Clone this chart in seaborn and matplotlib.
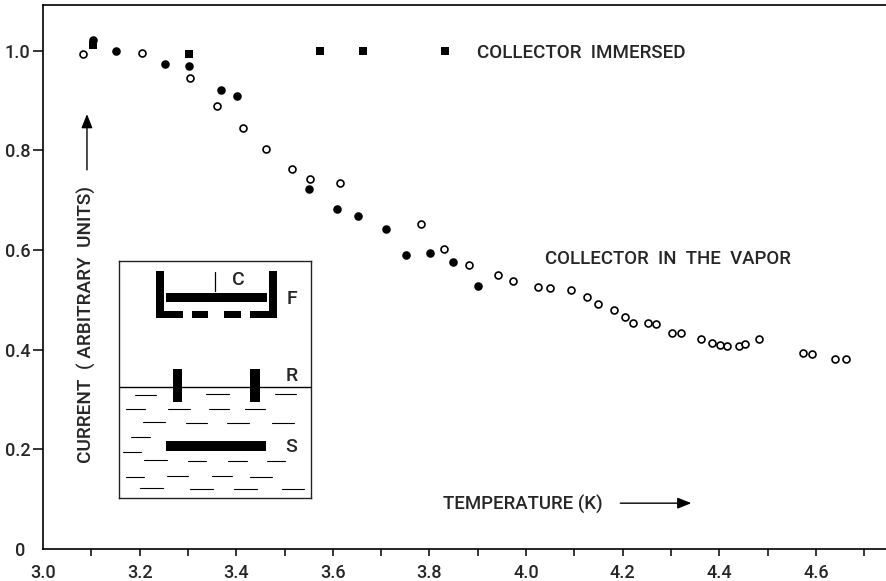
import pandas as pd
import matplotlib.pyplot as plt
import matplotlib.patches as mpatches
from matplotlib.transforms import ScaledTranslation
import seaborn as sns

# -------------------------------
# Data
# -------------------------------
vapor_open_t = [3.083, 3.205, 3.304, 3.361, 3.413, 3.462, 3.516, 3.553, 3.615, 3.782,
                3.830, 3.882, 3.941, 3.972, 4.024, 4.050, 4.092, 4.126, 4.149, 4.181,
                4.204, 4.222, 4.252, 4.268, 4.302, 4.321, 4.362, 4.384, 4.402, 4.416,
                4.440, 4.453, 4.482, 4.574, 4.591, 4.640, 4.663]
vapor_open_i = [0.993, 0.995, 0.946, 0.890, 0.846, 0.802, 0.762, 0.742, 0.734, 0.653,
                0.602, 0.571, 0.550, 0.537, 0.525, 0.523, 0.519, 0.505, 0.492, 0.479,
                0.465, 0.454, 0.454, 0.452, 0.433, 0.433, 0.421, 0.414, 0.410, 0.408,
                0.407, 0.412, 0.422, 0.393, 0.391, 0.382, 0.382]

vapor_filled_t = [3.103, 3.152, 3.253, 3.303, 3.369, 3.402, 3.551, 3.609, 3.652, 3.711,
                  3.751, 3.802, 3.849, 3.901]
vapor_filled_i = [1.022, 1.000, 0.974, 0.970, 0.922, 0.909, 0.723, 0.683, 0.669, 0.643,
                  0.590, 0.594, 0.576, 0.527]

immersed_t = [3.103, 3.302, 3.574, 3.663, 3.832]
immersed_i = [1.012, 0.993, 1.000, 0.999, 0.999]

x_major = [3.0, 3.2, 3.4, 3.6, 3.8, 4.0, 4.2, 4.4, 4.6]
x_minor = [3.1, 3.3, 3.5, 3.7, 3.9, 4.1, 4.3, 4.5, 4.7]
y_ticks = [0, 0.2, 0.4, 0.6, 0.8, 1.0]
y_labels = ['0', '0.2', '0.4', '0.6', '0.8', '1.0']

sns.set_style('ticks')
plt.rcParams['font.family'] = ['Roboto', 'DejaVu Sans']
plt.rcParams['font.size'] = 12
plt.rcParams['font.weight'] = 500

fig = plt.figure(figsize=(8.87, 5.81), dpi=100)
ax = fig.add_axes([43 / 887, 32 / 581, 844 / 887, 544 / 581])

# -------------------------------
# Scatter series
# -------------------------------
open_df = pd.DataFrame({'t': vapor_open_t, 'i': vapor_open_i})
filled_df = pd.DataFrame({'t': vapor_filled_t, 'i': vapor_filled_i})
immersed_df = pd.DataFrame({'t': immersed_t, 'i': immersed_i})

sns.scatterplot(data=open_df, x='t', y='i', ax=ax, marker='o', s=25,
                facecolor='white', edgecolor='black', linewidth=1.2, zorder=3)
sns.scatterplot(data=filled_df, x='t', y='i', ax=ax, marker='o', s=38,
                color='black', linewidth=0, zorder=4)
sns.scatterplot(data=immersed_df, x='t', y='i', ax=ax, marker='s', s=36,
                color='black', linewidth=0, zorder=4)

# -------------------------------
# Axes
# -------------------------------
ax.set_xlim(3.0, 4.747)
ax.set_ylim(0, 1.092)
ax.set_xlabel('')
ax.set_ylabel('')
ax.set_xticks(x_major)
ax.set_xticks(x_minor, minor=True)
ax.set_yticks(y_ticks)
ax.set_yticklabels(y_labels)
ax.tick_params(axis='x', which='both', length=5, width=1.1, pad=6, labelsize=13, color='black')
ax.tick_params(axis='y', length=7, width=1.1, pad=2, labelsize=13, color='black')
ax.xaxis.get_major_ticks()[0].tick1line.set_visible(False)
ax.yaxis.get_major_ticks()[0].tick1line.set_visible(False)

# the 0 on the y axis sits further left than the other labels
zero_label = ax.yaxis.get_major_ticks()[0].label1
zero_label.set_transform(zero_label.get_transform() + ScaledTranslation(-0.05, 0, fig.dpi_scale_trans))

ax.spines['right'].set_visible(False)
for side in ['left', 'bottom', 'top']:
    ax.spines[side].set_linewidth(1.2)
    ax.spines[side].set_color('black')

# -------------------------------
# Annotations
# -------------------------------
ax.text(3.899, 0.996, 'COLLECTOR  IMMERSED', fontsize=13.5, va='center', ha='left')
ax.text(4.039, 0.582, 'COLLECTOR  IN  THE  VAPOR', fontsize=13.4, va='center', ha='left')
ax.text(3.828, 0.090, 'TEMPERATURE (K)', fontsize=13.4, va='center', ha='left')
ax.text(3.089, 0.45, 'CURRENT  ( ARBITRARY  UNITS)', fontsize=13.7, rotation=90,
        va='center', ha='center')

arrow_style = dict(arrowstyle='-|>,head_length=0.7,head_width=0.28', color='black',
                   lw=1.0, shrinkA=0, shrinkB=0)
ax.annotate('', xy=(3.091, 0.873), xytext=(3.091, 0.761), arrowprops=arrow_style)
ax.annotate('', xy=(4.342, 0.092), xytext=(4.195, 0.092), arrowprops=arrow_style)

# -------------------------------
# Apparatus sketch (drawn in the units of a zoomed crop)
# -------------------------------
sketch = fig.add_axes([119.3 / 887, 1 - 497.7 / 581, 192 / 887, 236.7 / 581])
sketch.set_xlim(58, 634)
sketch.set_ylim(743, 33)
sketch.set_xticks([])
sketch.set_yticks([])
for s in sketch.spines.values():
    s.set_linewidth(1.0)
    s.set_color('#222222')

blocks = [(168, 63, 24, 142), (168, 182, 82, 23), (276, 182, 49, 23), (371, 182, 52, 23),
          (449, 182, 83, 23), (508, 63, 24, 142), (199, 129, 302, 28),
          (218, 358, 28, 99), (449, 358, 31, 99), (199, 574, 299, 28)]
for bx, by, bw, bh in blocks:
    sketch.add_patch(mpatches.Rectangle((bx, by), bw, bh, color='black', lw=0))

sketch.plot([345, 345], [65, 122], color='black', lw=0.9)
sketch.plot([58, 634], [410, 410], color='black', lw=1.0)

dashes = [(104, 168, 434), (318, 388, 432), (524, 588, 433),
          (78, 135, 477), (205, 270, 476), (328, 388, 476), (436, 494, 476),
          (128, 194, 517), (258, 320, 518), (382, 447, 518), (517, 582, 519),
          (92, 150, 560), (68, 123, 605),
          (133, 200, 631), (265, 318, 632), (384, 440, 632), (501, 556, 632),
          (78, 132, 680), (202, 265, 678), (336, 397, 679), (451, 516, 680),
          (121, 188, 715), (270, 338, 716), (403, 470, 716), (545, 611, 716)]
for x0, x1, yd in dashes:
    sketch.plot([x0, x1], [yd, yd], color='black', lw=0.8)

for label, lx, ly in [('C', 415, 90), ('F', 575, 147), ('R', 575, 378), ('S', 575, 590)]:
    sketch.text(lx, ly, label, fontsize=14, ha='center', va='center')

fig.savefig('out.png', dpi=100)
